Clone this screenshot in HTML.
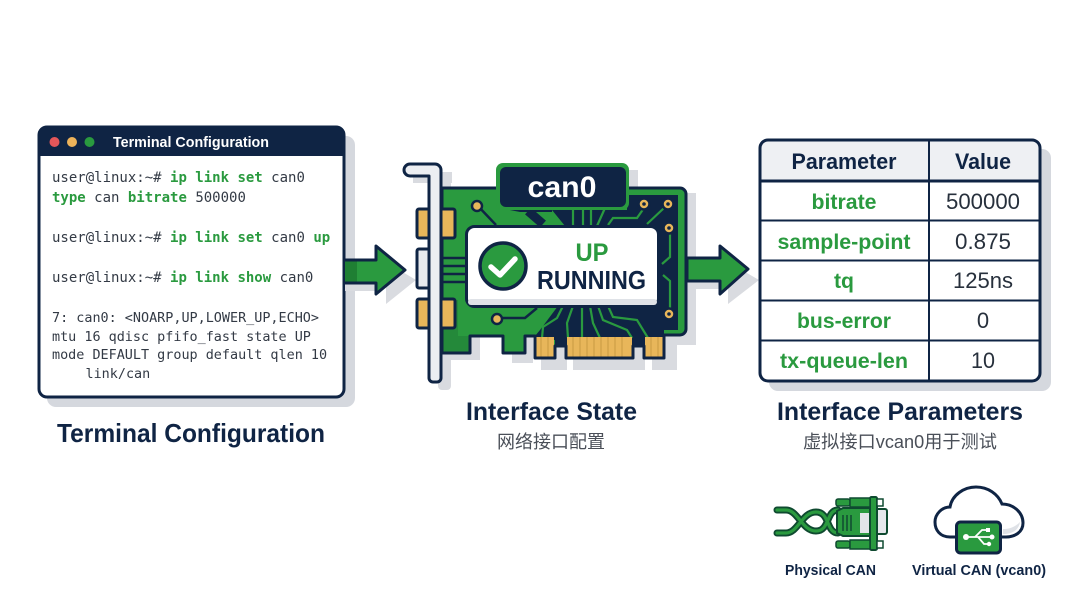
<!DOCTYPE html>
<html><head><meta charset="utf-8"><style>
html,body{margin:0;padding:0;background:#fff;width:1080px;height:603px;overflow:hidden}
svg{display:block}
.s{font-family:"Liberation Sans","Noto Sans CJK SC",sans-serif}
.b{font-family:"Liberation Sans","Noto Sans CJK SC",sans-serif;font-weight:700}
.m{font-family:"DejaVu Sans Mono","Liberation Mono",monospace;font-size:14px;fill:#333a45}
.o{font-family:"DejaVu Sans Mono","Liberation Mono",monospace;font-size:13.45px;fill:#333a45}
.g{fill:#2a9a3f;font-weight:700}
.t{font-family:"Liberation Sans",sans-serif;font-weight:700;font-size:21px;fill:#2a9a3f;text-anchor:middle}
.v{font-family:"Liberation Sans",sans-serif;font-size:22px;fill:#27303c;text-anchor:middle}
</style></head><body>
<svg width="1080" height="603" viewBox="0 0 1080 603" xmlns="http://www.w3.org/2000/svg">
<rect width="1080" height="603" fill="#fff"/>

<!-- Terminal -->
<rect x="47" y="136" width="308" height="271" rx="9" fill="#d5d8de"/>
<rect x="39" y="127" width="305" height="270" rx="8" fill="#fff" stroke="#0f2444" stroke-width="3"/>
<path d="M38 156V134a8 8 0 0 1 8-8H337a8 8 0 0 1 8 8V156Z" fill="#0f2444"/>
<circle cx="54.500" cy="142" r="5" fill="#e5575a"/>
<circle cx="72" cy="142" r="5" fill="#eeb35a"/>
<circle cx="89.500" cy="142" r="5" fill="#2a9a3f"/>
<text class="b" x="113" y="147" font-size="14.500" fill="#fff" textLength="156" lengthAdjust="spacingAndGlyphs">Terminal Configuration</text>
<text class="m" x="52" y="182">user@linux:~# <tspan class="g">ip link set</tspan> can0</text>
<text class="m" x="52" y="202"><tspan class="g">type</tspan> can <tspan class="g">bitrate</tspan> 500000</text>
<text class="m" x="52" y="242">user@linux:~# <tspan class="g">ip link set</tspan> can0 <tspan class="g">up</tspan></text>
<text class="m" x="52" y="282">user@linux:~# <tspan class="g">ip link show</tspan> can0</text>
<text class="o" x="52" y="322">7: can0: &lt;NOARP,UP,LOWER_UP,ECHO&gt;</text>
<text class="o" x="52" y="341">mtu 16 qdisc pfifo_fast state UP</text>
<text class="o" x="52" y="359">mode DEFAULT group default qlen 10</text>
<text class="o" x="85.500" y="378">link/can</text>
<text class="b" x="57" y="442" font-size="26" fill="#0f2444" textLength="268" lengthAdjust="spacingAndGlyphs">Terminal Configuration</text>

<!-- PCB shadows -->
<g fill="#d9dbe0">
<rect x="650" y="193" width="46" height="152"/>
<rect x="442" y="330" width="38" height="30"/>
<rect x="512" y="335" width="21" height="28"/>
<rect x="541" y="340" width="26" height="30"/>
<rect x="573" y="340" width="72" height="30"/>
<rect x="652" y="340" width="25" height="30"/>
<rect x="413" y="172" width="39" height="11"/>
<rect x="438" y="180" width="13" height="210" rx="4"/>
<rect x="628" y="170" width="10" height="22"/>
<path d="M386 262 L416 280 L386 304 Z"/>
<path d="M728 262 L759 280 L728 304 Z"/>
<rect x="345" y="283" width="36" height="8"/>
<rect x="690" y="281" width="32" height="8"/>
</g>

<!-- Arrows -->
<path d="M345 260H376V246L405 270L376 294V283H345Z" fill="#2a9a3f" stroke="#0f2444" stroke-width="3" stroke-linejoin="round"/>
<rect x="345" y="261.500" width="12" height="20" fill="#1f7f33"/>
<path d="M687 258H720V246L748 269L720 294V281H687Z" fill="#2a9a3f" stroke="#0f2444" stroke-width="3" stroke-linejoin="round"/>

<!-- PCB -->
<path id="p" d="M442 188H680a6 6 0 0 1 6 6V329a6 6 0 0 1-6 6H664V358H644V346H633V358H566V346H555V358H535V336H525V353H503V336H470V353H442Z" fill="#2a9a3f"/>
<path d="M442 300H458V336H470V352H442Z" fill="#24893a"/>
<!-- dark region -->
<path d="M552 210H627V195H678V330H664V346H633V346H566V346H555V340H535V336L540 330L558 306H655V226H565Z" fill="#0f2444"/>
<path d="M528 211L543 224" stroke="#0f2444" stroke-width="9" fill="none"/>
<path d="M500 208H552V212H520Z" fill="#0f2444"/>
<g fill="none" stroke="#2a9a3f" stroke-width="2.200">
<path d="M573 210V226M583 210V226M591 210V226M605 208L597 226"/>
<path d="M608 225L613 218H637L644 208M647 224L664 208"/>
<path d="M670 232V257L662 264M663 275L670 281V310"/>
<path d="M563 306L557 318L543 327L542 338M573 306L567 323L568 338M582 306V338M590 306L593 323L600 338M598 306L603 320L627 330L632 338M608 306L613 317L637 320L648 338"/>
</g>
<g fill="#e8b65a" stroke="#0f2444" stroke-width="2.500"><circle cx="644" cy="204" r="5.500"/><circle cx="668" cy="204" r="5.500"/><circle cx="669" cy="228" r="5.500"/><circle cx="669" cy="314" r="5.500"/></g>
<g fill="#0f2444"><circle cx="644" cy="204" r="1.800"/><circle cx="668" cy="204" r="1.800"/><circle cx="669" cy="228" r="1.800"/><circle cx="669" cy="314" r="1.800"/></g>
<g fill="none" stroke="#0f2444" stroke-width="2.500"><path d="M477 205L496 225M500 318H525L537 308"/><path d="M441 258H466M441 266H466M441 274H466M441 282H466"/></g>
<circle cx="477" cy="206" r="5" fill="#e8b65a" stroke="#0f2444" stroke-width="2.500"/>
<circle cx="497" cy="319" r="5" fill="#e8b65a" stroke="#0f2444" stroke-width="2.500"/>

<!-- Fingers -->
<g fill="#e8b65a"><rect x="536" y="337" width="18" height="20"/><rect x="567" y="337" width="65" height="20"/><rect x="645" y="337" width="18" height="20"/></g>
<g stroke="#c99a42" stroke-width="1"><path d="M541 337V357M548 337V357M573 337V357M580 337V357M587 337V357M594 337V357M601 337V357M608 337V357M615 337V357M622 337V357M651 337V357M658 337V357"/></g>
<path d="M442 188H680a6 6 0 0 1 6 6V329a6 6 0 0 1-6 6H664V358H644V346H633V358H566V346H555V358H535V336H525V353H503V336H470V353H442Z" fill="none" stroke="#0f2444" stroke-width="3" stroke-linejoin="round"/>
<path d="M681 193V331" stroke="#2a9a3f" stroke-width="5"/>

<!-- Connectors -->
<g stroke="#0f2444" stroke-width="3"><rect x="417" y="209" width="38" height="29" rx="2" fill="#e8b65a"/><rect x="417" y="249" width="22" height="39" rx="2" fill="#e8eaee"/><rect x="417" y="299" width="38" height="29" rx="2" fill="#e8b65a"/></g>

<!-- Bracket -->
<path d="M429 176H410a6 6 0 0 1 0-12H435a6 6 0 0 1 6 6V378a4 4 0 0 1-4 4H433a4 4 0 0 1-4-4V176Z" fill="#eceef2" stroke="#0f2444" stroke-width="3" stroke-linejoin="round"/>

<!-- can0 tag -->
<rect x="496" y="163" width="133" height="47" rx="7" fill="#2a9a3f"/>
<rect x="500" y="167" width="126" height="40" rx="6" fill="#0f2444"/>
<text class="b" x="562" y="197" font-size="30" fill="#fff" text-anchor="middle" textLength="69" lengthAdjust="spacingAndGlyphs">can0</text>

<!-- Status panel -->
<rect x="466.500" y="226.500" width="192" height="80" rx="8" fill="#fff" stroke="#0f2444" stroke-width="3"/>
<rect x="468" y="299" width="189" height="6" rx="3" fill="#dfe2e7"/>
<circle cx="503" cy="266" r="23" fill="#2a9a3f" stroke="#0f2444" stroke-width="3.500"/>
<path d="M491 267L500 275L515 259" fill="none" stroke="#fff" stroke-width="5.500" stroke-linecap="round" stroke-linejoin="round"/>
<text class="b" x="592" y="261" font-size="25" fill="#2a9a3f" text-anchor="middle" textLength="33" lengthAdjust="spacingAndGlyphs">UP</text>
<text class="b" x="537" y="289" font-size="25.500" fill="#0f2444" textLength="109" lengthAdjust="spacingAndGlyphs">RUNNING</text>

<text class="b" x="466" y="420" font-size="25" fill="#0f2444" textLength="171" lengthAdjust="spacingAndGlyphs">Interface State</text>
<text class="s" x="497" y="448" font-size="18" fill="#4a4f58">网络接口配置</text>

<!-- Table -->
<rect x="769" y="149" width="282" height="242" rx="9" fill="#d5d8de"/>
<rect x="760" y="140" width="280" height="241" rx="8" fill="#fff"/>
<path d="M760 181V148a8 8 0 0 1 8-8H1032a8 8 0 0 1 8 8V181Z" fill="#eef0f3"/>
<path d="M760 181H1040" stroke="#0f2444" stroke-width="3"/>
<path d="M760 220.500H1040M760 260.500H1040M760 300.500H1040M760 340.500H1040" stroke="#0f2444" stroke-width="2"/>
<path d="M929 140V381" stroke="#0f2444" stroke-width="2"/>
<rect x="760" y="140" width="280" height="241" rx="8" fill="none" stroke="#0f2444" stroke-width="3"/>
<text class="b" x="844" y="169" font-size="22" fill="#0f2444" text-anchor="middle" textLength="105" lengthAdjust="spacingAndGlyphs">Parameter</text>
<text class="b" x="983" y="169" font-size="22" fill="#0f2444" text-anchor="middle" textLength="56" lengthAdjust="spacingAndGlyphs">Value</text>
<text class="t" x="844" y="209" textLength="65" lengthAdjust="spacingAndGlyphs">bitrate</text>
<text class="t" x="844" y="249" textLength="133" lengthAdjust="spacingAndGlyphs">sample-point</text>
<text class="t" x="844" y="288" textLength="20" lengthAdjust="spacingAndGlyphs">tq</text>
<text class="t" x="844" y="328" textLength="94" lengthAdjust="spacingAndGlyphs">bus-error</text>
<text class="t" x="844" y="368" textLength="128" lengthAdjust="spacingAndGlyphs">tx-queue-len</text>
<text class="v" x="983" y="209" textLength="74" lengthAdjust="spacingAndGlyphs">500000</text>
<text class="v" x="983" y="249" textLength="56" lengthAdjust="spacingAndGlyphs">0.875</text>
<text class="v" x="983" y="288" textLength="60" lengthAdjust="spacingAndGlyphs">125ns</text>
<text class="v" x="983" y="328">0</text>
<text class="v" x="983" y="368" textLength="24" lengthAdjust="spacingAndGlyphs">10</text>
<text class="b" x="777" y="420" font-size="25" fill="#0f2444" textLength="246" lengthAdjust="spacingAndGlyphs">Interface Parameters</text>
<text class="s" x="803" y="448" font-size="18" fill="#4a4f58" textLength="194" lengthAdjust="spacingAndGlyphs">虚拟接口vcan0用于测试</text>

<!-- Physical CAN icon -->
<g fill="none" stroke-linecap="round">
<path d="M777 510H786C798 510 802 531 816 531S826 510 838 510" stroke="#0f4a30" stroke-width="7"/>
<path d="M777 533H786C798 533 802 512 816 512S826 533 838 533" stroke="#0f4a30" stroke-width="7"/>
<path d="M777 510H786C798 510 802 531 816 531S826 510 838 510" stroke="#2a9a3f" stroke-width="3.200"/>
<path d="M777 533H786C798 533 802 512 816 512S826 533 838 533" stroke="#2a9a3f" stroke-width="3.200"/>
</g>
<rect x="864" y="509" width="23" height="25" rx="2" fill="#e6e8ec" stroke="#0f4a30" stroke-width="2"/>
<path d="M837 511L843 508H872V536H843L837 533Z" fill="#2a9a3f" stroke="#0f4a30" stroke-width="2"/>
<path d="M843 515V531M847 515V531M851 515V531" stroke="#0f4a30" stroke-width="1.500"/>
<rect x="860" y="513" width="10" height="20" fill="#e2e4e9"/>
<rect x="870" y="497" width="7" height="53" rx="1.500" fill="#2a9a3f" stroke="#0f4a30" stroke-width="2"/>
<rect x="836" y="499" width="14" height="7" rx="2" fill="#2a9a3f" stroke="#0f4a30" stroke-width="1.500"/>
<rect x="850" y="498" width="20" height="9" fill="#2a9a3f" stroke="#0f4a30" stroke-width="1.500"/>
<rect x="877" y="499" width="6" height="7" fill="#fff" stroke="#0f4a30" stroke-width="1.500"/>
<rect x="836" y="541" width="14" height="7" rx="2" fill="#2a9a3f" stroke="#0f4a30" stroke-width="1.500"/>
<rect x="850" y="540" width="20" height="9" fill="#2a9a3f" stroke="#0f4a30" stroke-width="1.500"/>
<rect x="877" y="541" width="6" height="7" fill="#fff" stroke="#0f4a30" stroke-width="1.500"/>
<text class="b" x="785" y="575" font-size="14.500" fill="#0f2444" textLength="91" lengthAdjust="spacingAndGlyphs">Physical CAN</text>

<!-- Virtual CAN icon -->
<path d="M956 537H950C940 537 935 530 935 522C935 514 942 507 950 507C952 495 964 487 976 487C988 487 998 494 1002 504C1013 504 1023 512 1023 523C1023 532 1015 537 1006 537H1001" fill="#fff" stroke="#0f2444" stroke-width="3" stroke-linecap="round"/>
<path d="M1003 534C1012 534 1019 530 1020 522C1014 528 1008 529 1003 529Z" fill="#dfe2e7"/>
<rect x="956.500" y="522" width="44" height="31" rx="4" fill="#2a9a3f" stroke="#0f2444" stroke-width="3"/>
<g fill="none" stroke="#fff" stroke-width="1.800"><path d="M966 537H992M975 537L982 530H987M978 537L984 544H988"/></g>
<circle cx="966" cy="537" r="3" fill="#fff"/><circle cx="992" cy="537" r="2.500" fill="#fff"/><rect x="986" y="528" width="4" height="4" fill="#fff"/><circle cx="989" cy="544" r="2.200" fill="#fff"/>
<text class="b" x="912" y="575" font-size="14.500" fill="#0f2444" textLength="134" lengthAdjust="spacingAndGlyphs">Virtual CAN (vcan0)</text>
</svg>
</body></html>
